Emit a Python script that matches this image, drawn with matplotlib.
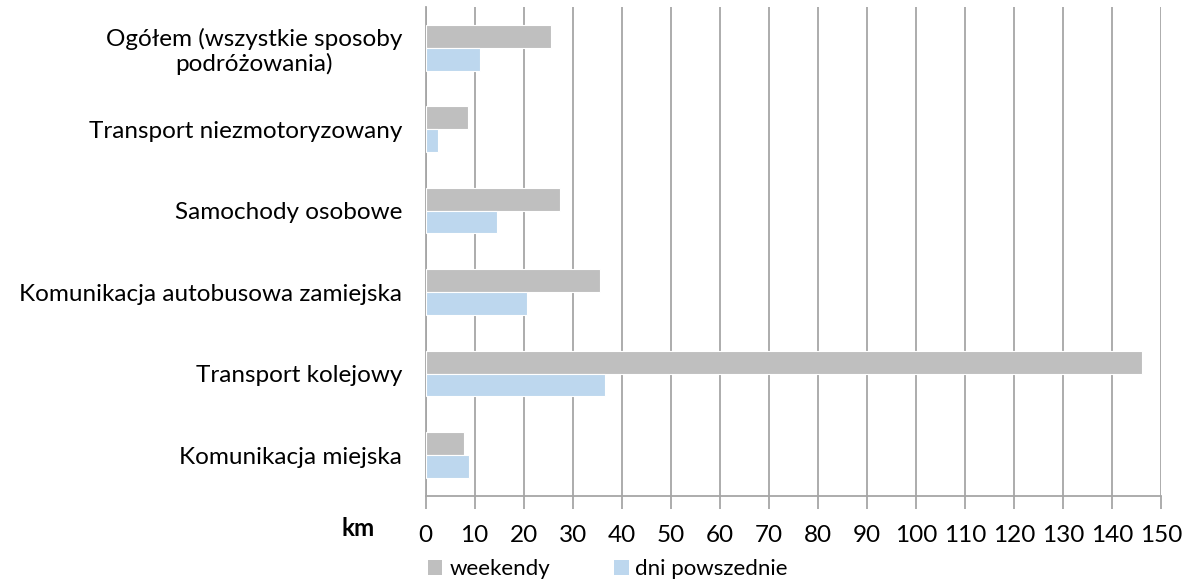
import matplotlib.pyplot as plt
import numpy as np
from matplotlib.patches import Patch

# Data (top to bottom as in the chart)
categories = ['Ogółem (wszystkie sposoby\npodróżowania)',
              'Transport niezmotoryzowany',
              'Samochody osobowe',
              'Komunikacja autobusowa zamiejska',
              'Transport kolejowy',
              'Komunikacja miejska']
weekendy = [25.5, 8.7, 27.5, 35.6, 146.2, 7.8]
dni_powszednie = [11.1, 2.6, 14.5, 20.6, 36.5, 8.8]
x_ticks = list(range(0, 151, 10))

plt.rcParams['font.family'] = ['Lato', 'DejaVu Sans']
fs = 17.5

fig = plt.figure(figsize=(11.92, 5.84), dpi=100)
ax = fig.add_axes([0.357, 0.151, 0.617, 0.837])

grey = '#BFBFBF'
blue = '#BDD7EE'
axis_col = '#A6A6A6'

pos = np.arange(len(categories))
h = 0.28
ax.barh(pos - h / 2, weekendy, height=h, color=grey, edgecolor='white', linewidth=0.8, zorder=3)
ax.barh(pos + h / 2, dni_powszednie, height=h, color=blue, edgecolor='white', linewidth=0.8, zorder=3)

ax.set_ylim(len(categories) - 0.5, -0.5)
ax.set_xlim(0, 150)
ax.set_xticks(x_ticks)
ax.set_yticks(pos)
ax.set_yticklabels(categories, fontsize=fs, ha='right')

ax.tick_params(axis='x', labelsize=fs, length=9, width=1.3, color=axis_col, pad=12)
ax.tick_params(axis='y', length=0, pad=17)
for lab in ax.get_yticklabels():
    lab.set_multialignment('center')

ax.grid(axis='x', color=axis_col, linewidth=1.3, zorder=0)
for side in ['top', 'right']:
    ax.spines[side].set_visible(False)
for side in ['left', 'bottom']:
    ax.spines[side].set_color(axis_col)
    ax.spines[side].set_linewidth(1.3)

fig.text(358 / 1192, 1 - 528 / 584, 'km', fontsize=fs, fontweight='bold', ha='center', va='center')

handles = [Patch(facecolor=grey, label='weekendy'), Patch(facecolor=blue, label='dni powszednie')]
fig.legend(handles=handles, loc='center', bbox_to_anchor=(608 / 1192, 1 - 569 / 584), ncol=2,
           frameon=False, fontsize=16, handlelength=0.65, handleheight=0.65,
           handletextpad=0.3, columnspacing=2.9)

fig.savefig('out.png', dpi=100)
